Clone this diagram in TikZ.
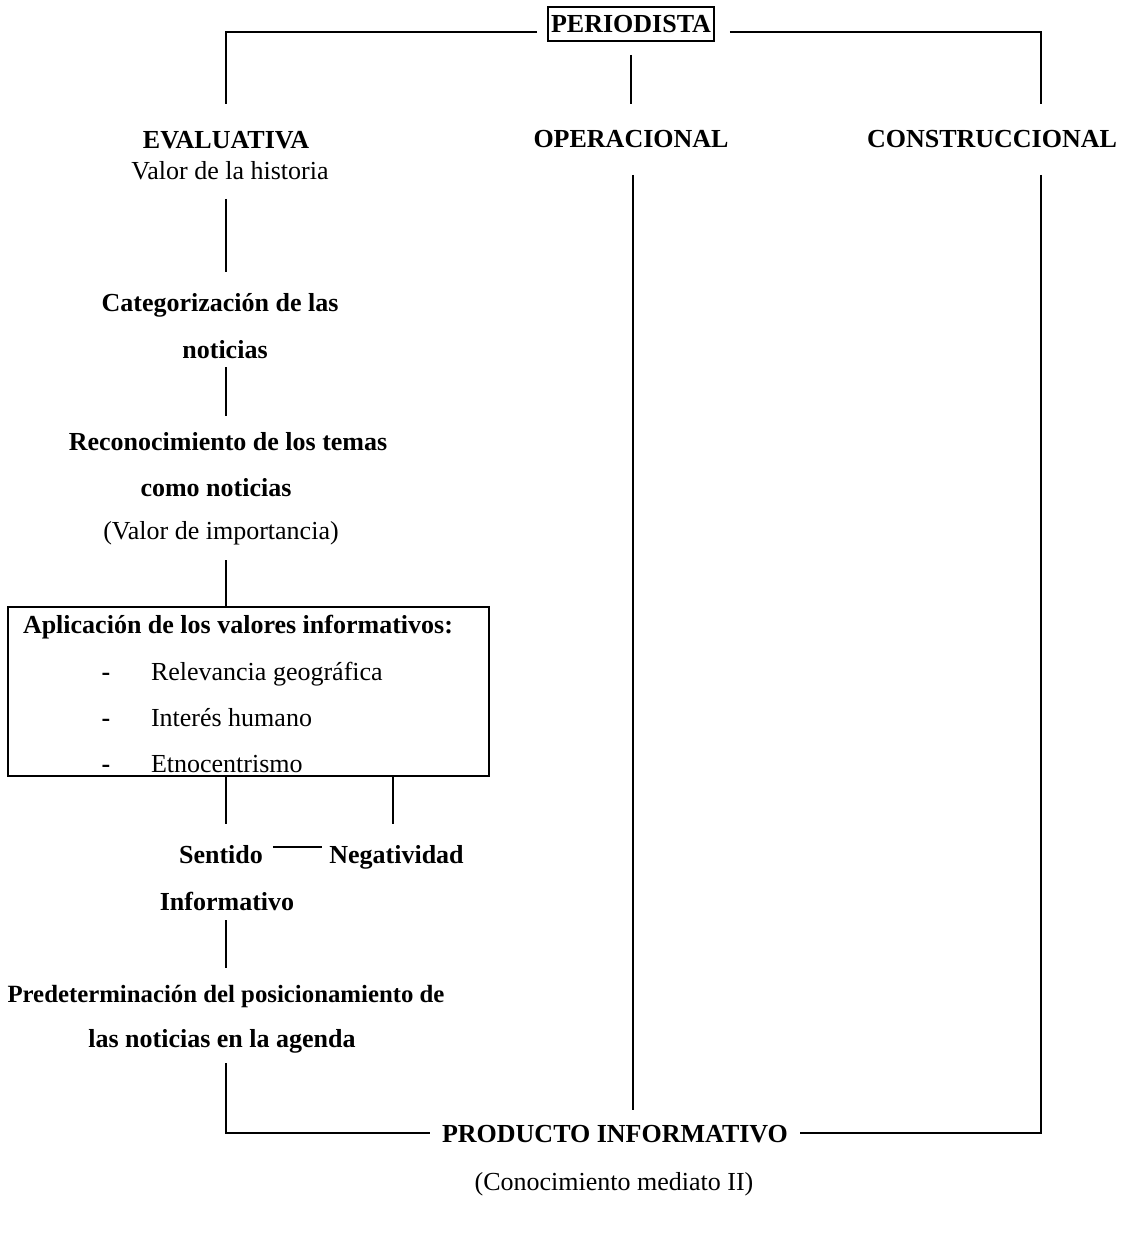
\documentclass[tikz,border=0pt]{standalone}
\usepackage{fontspec}
\setmainfont{Liberation Serif}
\usetikzlibrary{positioning}
\begin{document}
\begin{tikzpicture}[x=1pt, y=-1pt, line width=1.4pt,
	text node/.style={inner sep=0pt, outer sep=0pt, anchor=base, text height=18pt, text depth=6pt, font=\fontsize{26}{31}\selectfont},
	bold node/.style={text node, font=\fontsize{26}{31}\selectfont\bfseries},
	item node/.style={text node, anchor=base west}]
	\useasboundingbox (0,0) rectangle (1123,1246);

	\node[bold node, draw, anchor=center, inner sep=3pt, text height=17pt, text depth=0pt, minimum width=165pt, minimum height=34pt] (periodista) at (631,24) {PERIODISTA};
	\node[bold node] (evaluativa) at (226,149) {EVALUATIVA};
	\node[text node] (historia) at (230,180) {Valor de la historia};
	\node[bold node] (operacional) at (631,148) {OPERACIONAL};
	\node[bold node] (construccional) at (992,148) {CONSTRUCCIONAL};

	\node[bold node] (categorizacion) at (220,312) {Categorización de las};
	\node[bold node] (noticias) at (225,358) {noticias};
	\node[bold node] (reconocimiento) at (228,450) {Reconocimiento de los temas};
	\node[bold node] (comonoticias) at (216,496) {como noticias};
	\node[text node] (importancia) at (221,539) {(Valor de importancia)};

	\node[draw, minimum width=481pt, minimum height=169pt, inner sep=0pt, outer sep=0pt] (valores) at (248.5,691.5) {};
	\node[bold node, anchor=base west] (aplicacion) at (23,633) {Aplicación de los valores informativos:};
	\foreach \txt/\y [count=\i] in {Relevancia geográfica/680, Interés humano/726, Etnocentrismo/772}{
		\node[bold node] (dash\i) at (106,\y) {-};
		\node[item node] (item\i) at (151,\y) {\txt};
	}

	\node[bold node] (sentido) at (221,863) {Sentido};
	\node[bold node] (negatividad) at (396.5,863) {Negatividad};
	\node[bold node] (informativo) at (227,910) {Informativo};
	\node[bold node, font=\fontsize{24.8}{30}\selectfont\bfseries] (predeterminacion) at (226,1002) {Predeterminación del posicionamiento de};
	\node[bold node] (agenda) at (222,1047) {las noticias en la agenda};

	\node[bold node] (producto) at (615,1142) {PRODUCTO INFORMATIVO};
	\node[text node] (conocimiento) at (614,1190) {(Conocimiento mediato II)};

	% top branches
	\draw[shorten <=11pt, shorten >=27pt] ([yshift=-8pt]periodista.west) -| (evaluativa.north);
	\draw[shorten <=14pt, shorten >=26pt] (periodista.south) -- (operacional.north);
	\draw[shorten <=16pt, shorten >=26pt] ([yshift=-8pt]periodista.east) -| ([xshift=49pt]construccional.north);

	% evaluative column
	\draw[shorten <=13pt, shorten >=22pt] (historia.south -| evaluativa) -- (categorizacion.north -| evaluativa);
	\draw[shorten <=3pt, shorten >=16pt] (noticias.south -| evaluativa) -- (reconocimiento.north -| evaluativa);
	\draw[shorten <=15pt] (importancia.south -| evaluativa) -- (valores.north -| evaluativa);
	\draw[shorten >=21pt] (valores.south -| evaluativa) -- (sentido.north -| evaluativa);
	\draw[shorten >=21pt] ([xshift=-3.5pt]valores.south -| negatividad) -- ([xshift=-3.5pt]negatividad.north);
	\draw[shorten <=10pt, shorten >=7pt] ([yshift=10pt]sentido.east) -- ([yshift=10pt]negatividad.west);
	\draw[shorten <=4pt, shorten >=16pt] (informativo.south -| evaluativa) -- (predeterminacion.north -| evaluativa);

	% into the product
	\draw[shorten <=10pt, shorten >=12pt] (evaluativa |- agenda.south) |- ([yshift=3pt]producto.west);
	\draw[shorten <=21pt, shorten >=14pt] ([xshift=2pt]operacional.south) -- ([xshift=2pt]operacional.south |- producto.north);
	\draw[shorten <=21pt, shorten >=12pt] ([xshift=49pt]construccional.south) |- ([yshift=3pt]producto.east);
\end{tikzpicture}
\end{document}
